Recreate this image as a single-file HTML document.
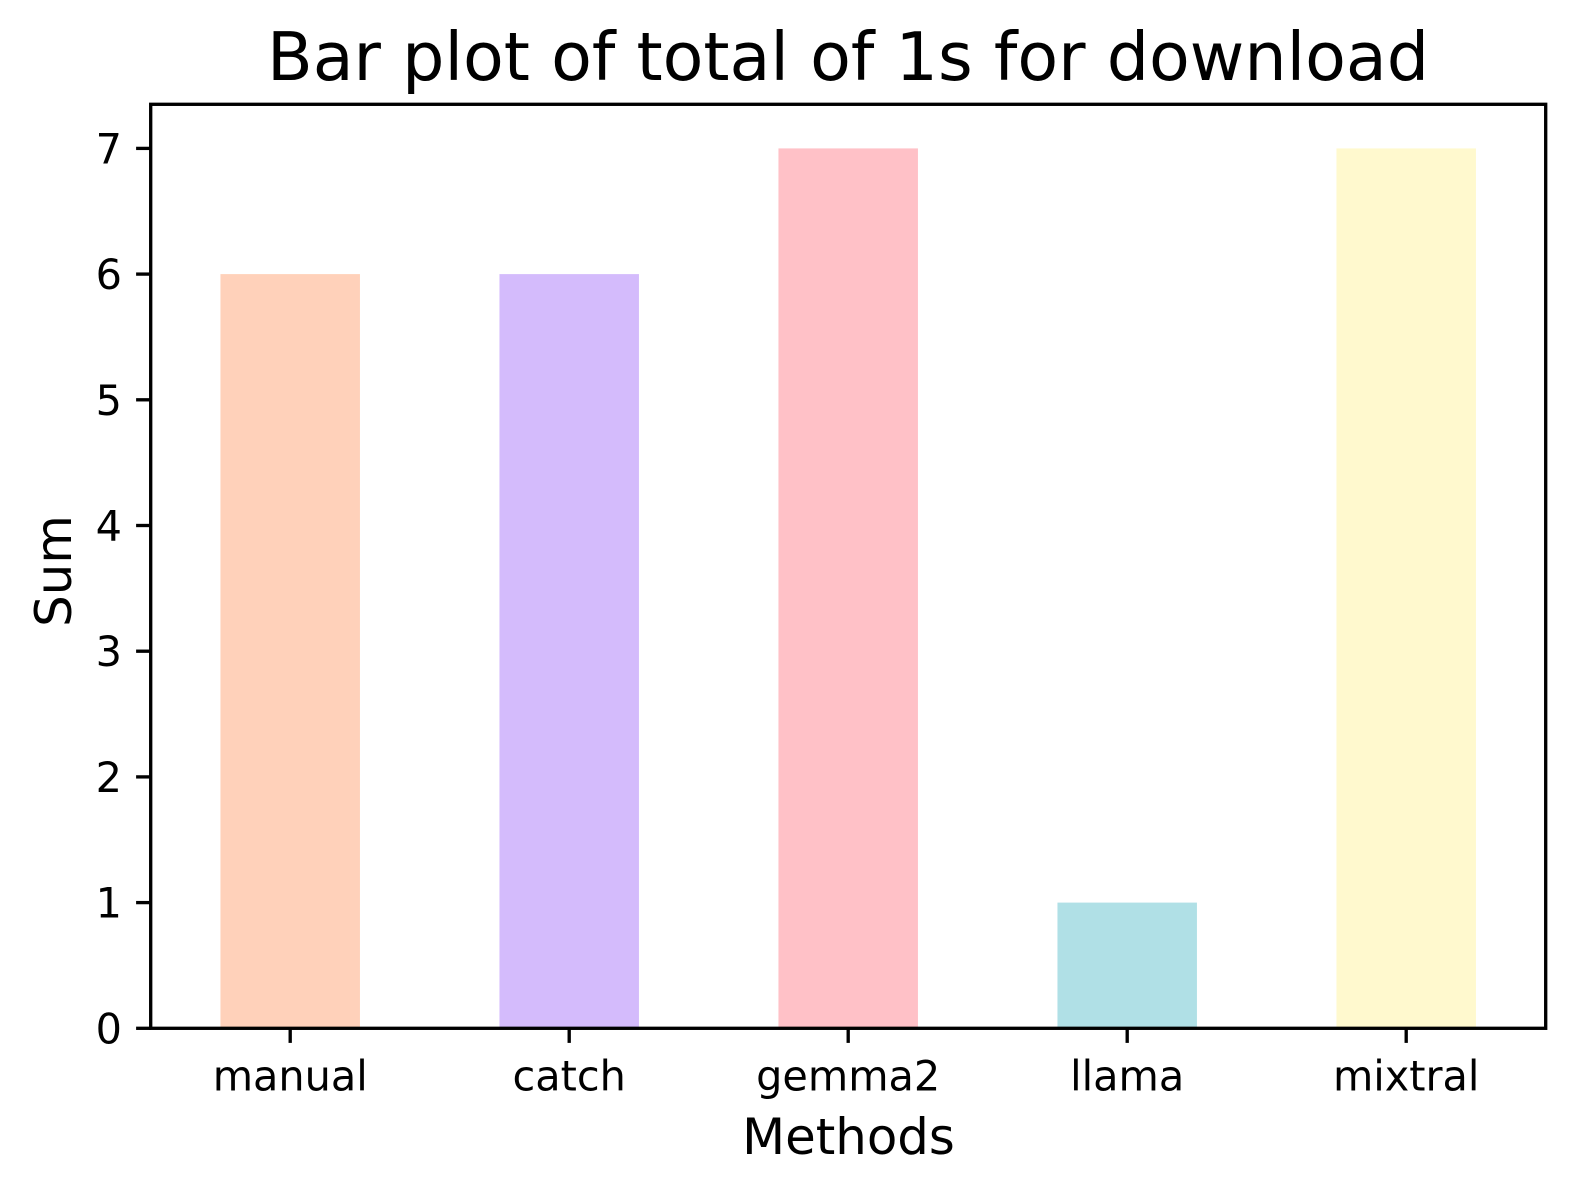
<!DOCTYPE html>
<html lang="en">
<head>
<meta charset="utf-8">
<title>Bar plot of total of 1s for download</title>
<style>
html,body{margin:0;padding:0;background:#fff;width:1575px;height:1192px;overflow:hidden}
svg{display:block}
text{font-family:"DejaVu Sans","Liberation Sans",sans-serif;fill:#000}
</style>
</head>
<body>
<svg id="chart" xmlns="http://www.w3.org/2000/svg" width="1575" height="1192" viewBox="0 0 1575 1192">
<rect x="0" y="0" width="1575" height="1192" fill="#ffffff"/>
<g id="bars"></g>
<g id="x-axis"></g>
<g id="y-axis"></g>
<rect x="150.7" y="104.3" width="1395" height="924" fill="none" stroke="#000" stroke-width="3.33"/>
<text x="848" y="80" text-anchor="middle" font-size="66.67">Bar plot of total of 1s for download</text>
<text x="848.5" y="1154.2" text-anchor="middle" font-size="49.8">Methods</text>
<text transform="translate(71.2 571) rotate(-90)" text-anchor="middle" font-size="49.8">Sum</text>
</svg>
<script>
const categories = ["manual", "catch", "gemma2", "llama", "mixtral"];
const sums = [6, 6, 7, 1, 7];
const barColors = ["#FFD1BA", "#D4BBFC", "#FFC1C7", "#B0E0E6", "#FFF9CE"];
const yTicks = [0, 1, 2, 3, 4, 5, 6, 7];

const NS = "http://www.w3.org/2000/svg";
const plotLeft = 150.7, plotRight = 1545.7, plotTop = 104.3, plotBottom = 1028.3;
const yUnit = 125.7;
const bandWidth = (plotRight - plotLeft) / categories.length;
const barWidth = bandWidth * 0.5;
const tickLength = 14.6;

function xScale(i) { return plotLeft + bandWidth * (i + 0.5); }
function yScale(v) { return plotBottom - v * yUnit; }
function svgEl(tag, props) {
  const el = document.createElementNS(NS, tag);
  for (const k in props) el.setAttribute(k, props[k]);
  return el;
}

const barsG = document.getElementById("bars");
const xG = document.getElementById("x-axis");
const yG = document.getElementById("y-axis");

categories.forEach(function (cat, i) {
  const cx = xScale(i);
  const bar = svgEl("rect", {
    x: cx - barWidth / 2,
    y: yScale(sums[i]),
    width: barWidth,
    height: plotBottom - yScale(sums[i]),
    fill: barColors[i]
  });
  
  
  barsG.appendChild(bar);

  const tick = svgEl("line", {
    x1: cx, x2: cx, y1: plotBottom, y2: plotBottom + tickLength,
    stroke: "#000", "stroke-width": 3.33
  });
  
  
  xG.appendChild(tick);

  const label = svgEl("text", {
    x: cx, y: 1090.5, "text-anchor": "middle", "font-size": 41.4
  });
  label.textContent = cat;
  
  
  xG.appendChild(label);
});

yTicks.forEach(function (t) {
  const y = yScale(t);
  const tick = svgEl("line", {
    x1: plotLeft - tickLength, x2: plotLeft, y1: y, y2: y,
    stroke: "#000", "stroke-width": 3.33
  });
  
  
  yG.appendChild(tick);

  const label = svgEl("text", {
    x: 122, y: y + 15, "text-anchor": "end", "font-size": 41.4
  });
  label.textContent = String(t);
  
  
  yG.appendChild(label);
});
</script>
</body>
</html>
